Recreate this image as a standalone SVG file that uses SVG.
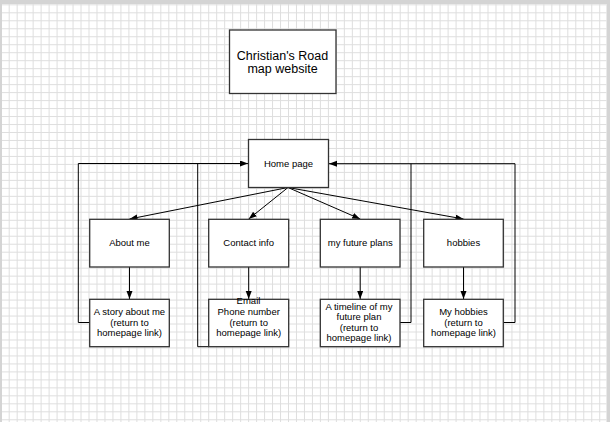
<svg xmlns="http://www.w3.org/2000/svg" width="610" height="422" viewBox="0 0 610 422">
<defs>
<pattern id="grid" patternUnits="userSpaceOnUse" x="8.7" y="12.3" width="7.98" height="7.98">
<path d="M0 0.5 H7.98 M0.5 0 V7.98" stroke="#dedede" stroke-width="1" fill="none"/>
</pattern>
<marker id="arr" markerUnits="userSpaceOnUse" markerWidth="9" markerHeight="7" refX="8" refY="3" orient="auto">
<path d="M0 0 L8 3 L0 6 Z" fill="#000"/>
</marker>
<style>
.box{fill:#fff;stroke:#333;stroke-width:1.3}
.t{font-family:"Liberation Sans",Arial,sans-serif;font-size:9.5px;fill:#000;text-anchor:middle}
.title{font-family:"Liberation Sans",Arial,sans-serif;font-size:12.5px;fill:#000;text-anchor:middle}
.c{fill:none;stroke:#000;stroke-width:1}
</style>
</defs>
<rect x="0" y="0" width="610" height="422" fill="#d4d4d4"/>
<rect x="2" y="4" width="604.5" height="418" fill="#fff"/>
<rect x="2" y="4" width="604.5" height="418" fill="url(#grid)"/>

<g id="connectors">
<path class="c" d="M288 187.5 L129.5 219" marker-end="url(#arr)"/>
<path class="c" d="M288 187.5 L248.7 219" marker-end="url(#arr)"/>
<path class="c" d="M288 187.5 L360.2 219" marker-end="url(#arr)"/>
<path class="c" d="M288 187.5 L463.5 219" marker-end="url(#arr)"/>
<path class="c" d="M129.5 267 V299" marker-end="url(#arr)"/>
<path class="c" d="M248.7 267 V299" marker-end="url(#arr)"/>
<path class="c" d="M360.2 267 V299" marker-end="url(#arr)"/>
<path class="c" d="M463.5 267 V299" marker-end="url(#arr)"/>
<path class="c" d="M89.7 322.5 H78.3 V163.5 H248" marker-end="url(#arr)"/>
<path class="c" d="M208.7 346.7 H197.7 V163.5"/>
<path class="c" d="M400 322.5 H411 V163.7 H329" marker-end="url(#arr)"/>
<path class="c" d="M503.3 322.5 H515 V163.7 H411"/>
</g>

<g id="title">
<rect class="box" x="229.5" y="30" width="106.5" height="63.5"/>
<text class="title" x="282.5" y="59.5">Christian's Road</text>
<text class="title" x="282.5" y="73">map website</text>
</g>

<g id="home">
<rect class="box" x="248.5" y="139.5" width="80" height="48"/>
<text class="t" x="288.5" y="167">Home page</text>
</g>

<g id="about">
<rect class="box" x="89.7" y="219.3" width="79.6" height="47.7"/>
<text class="t" x="129.5" y="246">About me</text>
</g>

<g id="contact">
<rect class="box" x="208.7" y="219.3" width="80" height="47.7"/>
<text class="t" x="248.7" y="246">Contact info</text>
</g>

<g id="future">
<rect class="box" x="320.3" y="219.3" width="79.7" height="47.7"/>
<text class="t" x="360.2" y="246">my future plans</text>
</g>

<g id="hobbies">
<rect class="box" x="423.7" y="219.3" width="79.6" height="47.7"/>
<text class="t" x="463.5" y="246">hobbies</text>
</g>

<g id="story">
<rect class="box" x="89.7" y="299.3" width="79.6" height="47.4"/>
<text class="t" x="129.5" y="315">A story about me</text>
<text class="t" x="129.5" y="325.5">(return to</text>
<text class="t" x="129.5" y="336">homepage link)</text>
</g>

<g id="phone">
<rect class="box" x="208.7" y="299.3" width="80" height="47.4"/>
<text class="t" x="248.5" y="304">Email</text>
<text class="t" x="248.7" y="315">Phone number</text>
<text class="t" x="248.7" y="325.5">(return to</text>
<text class="t" x="248.7" y="336">homepage link)</text>
</g>

<g id="timeline">
<rect class="box" x="320.3" y="299.3" width="79.7" height="47.4"/>
<text class="t" x="359" y="309.5">A timeline of my</text>
<text class="t" x="359" y="320">future plan</text>
<text class="t" x="359" y="330.7">(return to</text>
<text class="t" x="359" y="341.3">homepage link)</text>
</g>

<g id="myhobbies">
<rect class="box" x="423.7" y="299.3" width="79.6" height="47.4"/>
<text class="t" x="463.5" y="315">My hobbies</text>
<text class="t" x="463.5" y="325.5">(return to</text>
<text class="t" x="463.5" y="336">homepage link)</text>
</g>
</svg>
